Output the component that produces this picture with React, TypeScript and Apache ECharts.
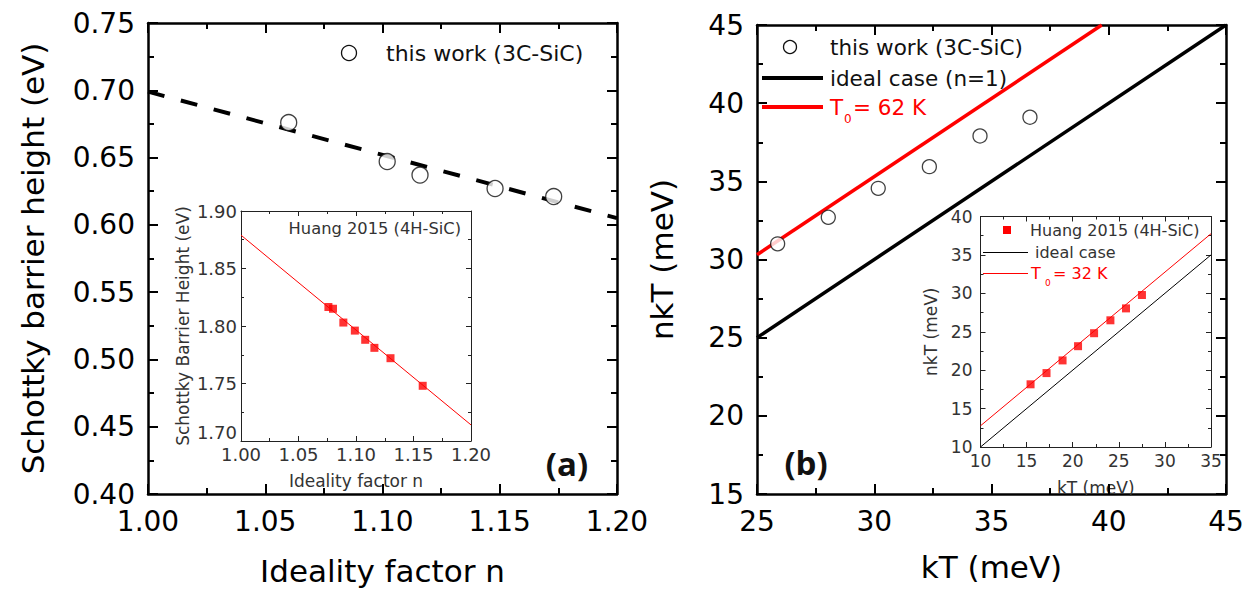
import React, { useEffect, useRef } from "react";
import * as echarts from "echarts";

// ---------- data ----------
// Panel (a): this work (3C-SiC)
const idealityA = [1.06, 1.102, 1.116, 1.148, 1.173];
const barrierA = [0.676, 0.647, 0.637, 0.627, 0.621];
const fitIdealityA = [1.0, 1.2];
const fitBarrierA = [0.699, 0.605];

// Inset (a): Huang 2015 (4H-SiC)
const idealityInsetA = [1.076, 1.08, 1.089, 1.099, 1.108, 1.116, 1.13, 1.158];
const barrierInsetA = [1.8165, 1.815, 1.803, 1.796, 1.788, 1.781, 1.772, 1.748];
const fitIdealityInsetA = [1.0, 1.2];
const fitBarrierInsetA = [1.879, 1.714];

// Panel (b): this work (3C-SiC)
const kTB = [25.88, 28.04, 30.17, 32.35, 34.51, 36.64];
const nkTB = [31.0, 32.7, 34.55, 35.94, 37.9, 39.1];
const idealKTB = [25, 45];
const idealNkTB = [25, 45];
const t0KTB = [25, 39.7];
const t0NkTB = [30.3, 45];

// Inset (b): Huang 2015 (4H-SiC)
const kTInsetB = [15.43, 17.16, 18.9, 20.58, 22.32, 24.09, 25.78, 27.51];
const nkTInsetB = [18.16, 19.62, 21.27, 23.12, 24.81, 26.49, 28.04, 29.78];
const idealKTInsetB = [10, 35];
const idealNkTInsetB = [10, 35];
const t0KTInsetB = [10, 35];
const t0NkTInsetB = [12.76, 37.76];

const zip = (a: number[], b: number[]) => a.map((v, i) => [v, b[i]]);

const FONT = "'DejaVu Sans', 'Liberation Sans', sans-serif";
const RED = "#ff0000";

type AxStyle = {
  lineWidth: number;
  color: string;
  tickLen: number;
  minorLen: number;
  tickWidth: number;
  labelSize: number;
  labelColor: string;
  margin: number;
  digits: number;
  name: string;
  nameGap: number;
  nameSize: number;
  minLabelVAlign?: string;
};

function makeAxes(
  dim: "x" | "y",
  gridIndex: number,
  min: number,
  max: number,
  interval: number,
  s: AxStyle
) {
  const base = (main: boolean) => {
    const axisLabel: any = {
      show: main,
      showMinLabel: true,
      showMaxLabel: true,
      fontSize: s.labelSize,
      fontFamily: FONT,
      color: s.labelColor,
      margin: s.margin,
      formatter: (v: number) => v.toFixed(s.digits),
    };
    if (s.minLabelVAlign) axisLabel.verticalAlignMinLabel = s.minLabelVAlign;
    return {
      type: "value",
      gridIndex,
      min,
      max,
      interval,
      position: dim === "x" ? (main ? "bottom" : "top") : main ? "left" : "right",
      axisLine: { show: true, onZero: false, lineStyle: { color: s.color, width: s.lineWidth } },
      axisTick: { show: true, inside: true, length: s.tickLen, lineStyle: { color: s.color, width: s.tickWidth } },
      minorTick: { show: true, splitNumber: 2, length: s.minorLen, lineStyle: { color: s.color, width: s.tickWidth } },
      splitLine: { show: false },
      axisLabel,
      name: main ? s.name : "",
      nameLocation: "middle",
      nameGap: s.nameGap,
      nameTextStyle: { fontSize: s.nameSize, fontFamily: FONT, color: s.labelColor },
    };
  };
  return [base(true), base(false)];
}

const mainStyle = {
  lineWidth: 2.5,
  color: "#000",
  tickLen: 10,
  minorLen: 6,
  tickWidth: 2,
  labelSize: 28,
  labelColor: "#000",
  margin: 13,
  nameSize: 31,
};
const insetStyle = {
  lineWidth: 1,
  color: "#222",
  tickLen: 5,
  minorLen: 3,
  tickWidth: 1,
  labelColor: "#333",
};

function txt(x: number, y: number, text: string, size: number, color: string, align = "left", weight = "normal", family = FONT) {
  return {
    type: "text",
    x,
    y,
    z: 100,
    style: {
      text,
      fontSize: size,
      fontFamily: family,
      fontWeight: weight,
      fill: color,
      align,
      verticalAlign: "middle",
      textAlign: align,
      textVerticalAlign: "middle",
    },
  };
}

export default function App() {
  const ref = useRef<HTMLDivElement>(null);
  useEffect(() => {
    document.body.style.margin = "0";
    if (!ref.current) return;
    const chart = echarts.init(ref.current, undefined, { renderer: "svg" });

    const xAxes = [
      ...makeAxes("x", 0, 1.0, 1.2, 0.05, { ...mainStyle, digits: 2, name: "Ideality factor n", nameGap: 61 }),
      ...makeAxes("x", 1, 1.0, 1.2, 0.05, { ...insetStyle, labelSize: 18, margin: 4, digits: 2, name: "Ideality factor n", nameGap: 31, nameSize: 17 }),
      ...makeAxes("x", 2, 25, 45, 5, { ...mainStyle, digits: 0, name: "kT (meV)", nameGap: 57 }),
      ...makeAxes("x", 3, 10, 35, 5, { ...insetStyle, labelSize: 17, margin: 5, digits: 0, name: "kT (meV)", nameGap: 32, nameSize: 17 }),
    ];
    const yAxes = [
      ...makeAxes("y", 0, 0.4, 0.75, 0.05, { ...mainStyle, digits: 2, name: "Schottky barrier height (eV)", nameGap: 100 }),
      ...makeAxes("y", 1, 1.7, 1.9, 0.05, { ...insetStyle, labelSize: 18, margin: 4, digits: 2, name: "Schottky Barrier Height (eV)", nameGap: 50, nameSize: 17, minLabelVAlign: "bottom" }),
      ...makeAxes("y", 2, 15, 45, 5, { ...mainStyle, digits: 0, name: "nkT (meV)", nameGap: 80 }),
      ...makeAxes("y", 3, 10, 40, 5, { ...insetStyle, labelSize: 17, margin: 8, digits: 0, name: "nkT (meV)", nameGap: 41, nameSize: 17 }),
    ];

    const openCircle = (size: number) => ({
      type: "scatter",
      symbol: "circle",
      symbolSize: size,
      itemStyle: { color: "#fff", borderColor: "#111", borderWidth: 1.3 },
      z: 5,
    });

    const series: any[] = [
      {
        type: "line",
        xAxisIndex: 0,
        yAxisIndex: 0,
        data: zip(fitIdealityA, fitBarrierA),
        showSymbol: false,
        symbol: "none",
        lineStyle: { color: "#000", width: 4, type: [17, 17] },
        z: 3,
      },
      { ...openCircle(16), xAxisIndex: 0, yAxisIndex: 0, data: zip(idealityA, barrierA) },
      {
        type: "line",
        xAxisIndex: 2,
        yAxisIndex: 2,
        data: zip(fitIdealityInsetA, fitBarrierInsetA),
        symbol: "none",
        lineStyle: { color: RED, width: 1 },
      },
      {
        type: "scatter",
        xAxisIndex: 2,
        yAxisIndex: 2,
        data: zip(idealityInsetA, barrierInsetA),
        symbol: "rect",
        symbolSize: 8,
        itemStyle: { color: RED },
      },
      {
        type: "line",
        xAxisIndex: 4,
        yAxisIndex: 4,
        data: zip(idealKTB, idealNkTB),
        symbol: "none",
        lineStyle: { color: "#000", width: 3.5 },
      },
      {
        type: "line",
        xAxisIndex: 4,
        yAxisIndex: 4,
        data: zip(t0KTB, t0NkTB),
        symbol: "none",
        lineStyle: { color: RED, width: 3.5 },
      },
      { ...openCircle(14), xAxisIndex: 4, yAxisIndex: 4, data: zip(kTB, nkTB) },
      {
        type: "line",
        xAxisIndex: 6,
        yAxisIndex: 6,
        data: zip(idealKTInsetB, idealNkTInsetB),
        symbol: "none",
        lineStyle: { color: "#000", width: 1 },
      },
      {
        type: "line",
        xAxisIndex: 6,
        yAxisIndex: 6,
        data: zip(t0KTInsetB, t0NkTInsetB),
        symbol: "none",
        lineStyle: { color: RED, width: 1 },
      },
      {
        type: "scatter",
        xAxisIndex: 6,
        yAxisIndex: 6,
        data: zip(kTInsetB, nkTInsetB),
        symbol: "rect",
        symbolSize: 8,
        itemStyle: { color: RED },
      },
    ];

    const graphic: any[] = [
      // legend (a)
      { type: "circle", z: 100, shape: { cx: 349, cy: 53, r: 7.5 }, style: { fill: "#fff", stroke: "#111", lineWidth: 1.3 } },
      txt(386, 53, "this work (3C-SiC)", 22, "#111"),
      // inset (a) label
      txt(461, 228, "Huang 2015 (4H-SiC)", 16.3, "#333", "right"),
      // panel labels
      txt(567, 463, "(a)", 33, "#111", "center", "bold", "'Open Sans', sans-serif"),
      txt(806, 462, "(b)", 33, "#111", "center", "bold", "'Open Sans', sans-serif"),
      // legend (b)
      { type: "circle", z: 100, shape: { cx: 790, cy: 47, r: 6.5 }, style: { fill: "#fff", stroke: "#111", lineWidth: 1.3 } },
      txt(830, 47, "this work (3C-SiC)", 21.5, "#111"),
      { type: "line", z: 100, shape: { x1: 762, y1: 78, x2: 823, y2: 78 }, style: { stroke: "#000", lineWidth: 4 } },
      txt(830, 78, "ideal case (n=1)", 21.5, "#111"),
      { type: "line", z: 100, shape: { x1: 762, y1: 107, x2: 823, y2: 107 }, style: { stroke: RED, lineWidth: 4 } },
      txt(830, 107, "T", 21.5, RED),
      txt(844, 119, "0", 12, RED),
      txt(853, 107, "= 62 K", 21.5, RED),
      // legend inset (b)
      { type: "rect", z: 100, shape: { x: 1003, y: 226, width: 8, height: 8 }, style: { fill: RED } },
      txt(1030, 230, "Huang 2015 (4H-SiC)", 16, "#333"),
      { type: "line", z: 100, shape: { x1: 983, y1: 252.5, x2: 1028, y2: 252.5 }, style: { stroke: "#000", lineWidth: 1 } },
      txt(1035, 252, "ideal case", 16, "#333"),
      { type: "line", z: 100, shape: { x1: 983, y1: 273.5, x2: 1028, y2: 273.5 }, style: { stroke: RED, lineWidth: 1 } },
      txt(1031, 273, "T", 16, RED),
      txt(1045, 283, "0", 9, RED),
      txt(1053, 273, "= 32 K", 16, RED),
    ];

    chart.setOption({
      animation: false,
      backgroundColor: "#fff",
      grid: [
        { left: 148, top: 23, width: 469, height: 471 },
        { left: 241, top: 211, width: 230, height: 230 },
        { left: 757, top: 25, width: 469, height: 469 },
        { left: 980.5, top: 216.5, width: 230.5, height: 230.5 },
      ],
      xAxis: xAxes,
      yAxis: yAxes,
      series,
      graphic,
    });
    return () => chart.dispose();
  }, []);
  return <div ref={ref} style={{ width: 1253, height: 595 }} />;
}
